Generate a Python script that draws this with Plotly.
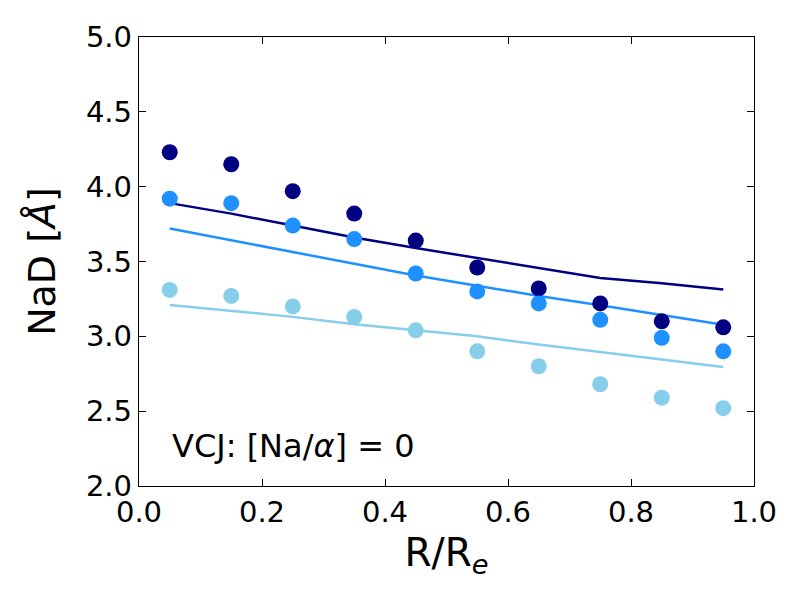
import plotly.graph_objects as go

# Radial bins
radius = [0.05, 0.15, 0.25, 0.35, 0.45, 0.55, 0.65, 0.75, 0.85, 0.95]

# Measured NaD (points)
nad_navy = [4.23, 4.15, 3.97, 3.82, 3.64, 3.46, 3.32, 3.22, 3.10, 3.06]
nad_dodger = [3.92, 3.89, 3.74, 3.65, 3.42, 3.30, 3.22, 3.11, 2.99, 2.90]
nad_sky = [3.31, 3.27, 3.20, 3.13, 3.04, 2.90, 2.80, 2.68, 2.59, 2.52]

# VCJ model predictions (lines)
model_navy = [3.89, 3.82, 3.74, 3.66, 3.59, 3.525, 3.457, 3.39, 3.355, 3.313]
model_dodger = [3.72, 3.64, 3.56, 3.485, 3.406, 3.337, 3.27, 3.207, 3.143, 3.078]
model_sky = [3.21, 3.17, 3.13, 3.08, 3.04, 3.00, 2.945, 2.895, 2.845, 2.795]

colors = ["navy", "dodgerblue", "skyblue"]

fig = go.Figure()

for model, col in zip([model_navy, model_dodger, model_sky], colors):
    fig.add_trace(go.Scatter(x=radius, y=model, mode="lines",
                             line=dict(color=col, width=2.5)))

for nad, col in zip([nad_navy, nad_dodger, nad_sky], colors):
    fig.add_trace(go.Scatter(x=radius, y=nad, mode="markers",
                             marker=dict(color=col, size=16, line=dict(width=0))))

axis_style = dict(showgrid=False, zeroline=False, showline=True, linecolor="black",
                  linewidth=1.3, mirror="ticks", ticks="inside", ticklen=7,
                  tickcolor="black", tickwidth=1, tickfont=dict(size=29, color="black"))

fig.update_xaxes(range=[0, 1], dtick=0.2, tickformat=".1f",
                 title=dict(text="R/R<sub><i>e</i></sub>", font=dict(size=39, color="black"),
                            standoff=10),
                 **axis_style)
fig.update_yaxes(range=[2.0, 5.0], dtick=0.5, tickformat=".1f",
                 title=dict(text="NaD [<i>Å</i>]", font=dict(size=38, color="black"),
                            standoff=18),
                 **axis_style)

fig.add_annotation(x=0.05, y=2.27, xref="x", yref="y", xanchor="left", yanchor="middle",
                   text="VCJ: [Na/<i>α</i>] = 0", showarrow=False,
                   font=dict(size=32, color="black"))

# page body adds 8px offset, so margins are shifted to land the frame where it should
fig.update_layout(width=800, height=600, showlegend=False,
                  margin=dict(l=131, r=54, t=27, b=122),
                  plot_bgcolor="white", paper_bgcolor="white",
                  font=dict(family="DejaVu Sans"))

fig.write_html("out.html")
